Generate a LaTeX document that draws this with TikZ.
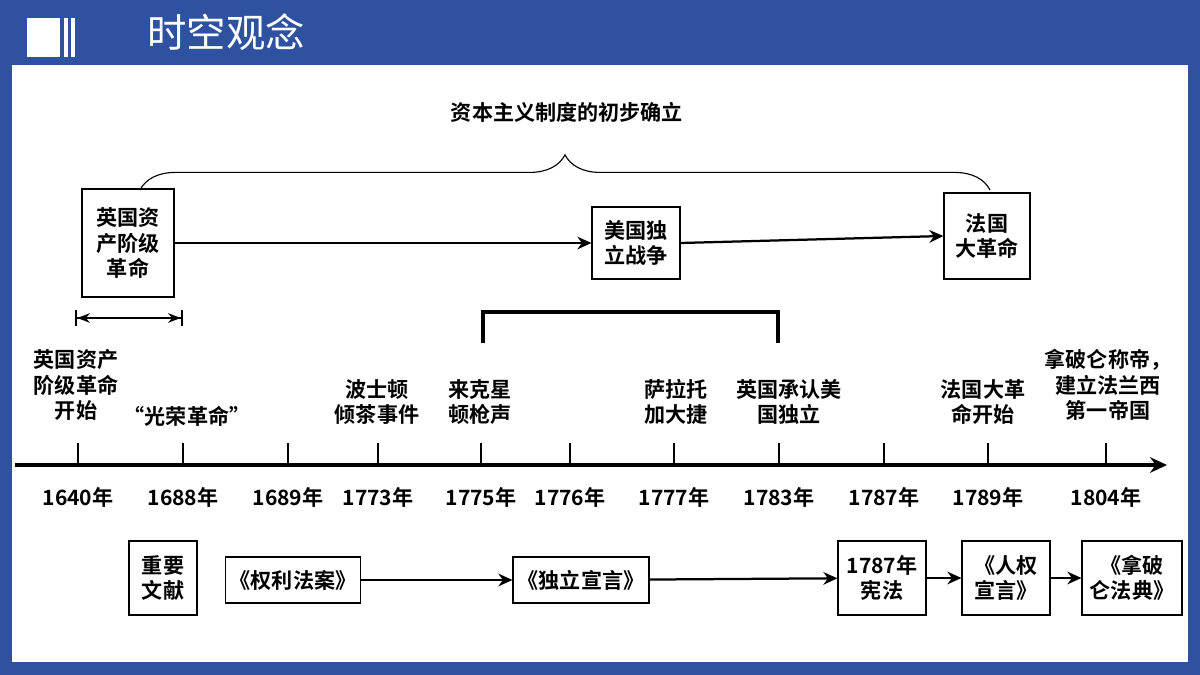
\documentclass[tikz,border=0pt]{standalone}
\usepackage{fontspec}
\setmainfont{Noto Sans CJK SC}[BoldFont={Noto Sans CJK SC Bold}]
\usetikzlibrary{arrows.meta,decorations.pathreplacing}
\definecolor{frameblue}{HTML}{2F52A0}
\begin{document}
\begin{tikzpicture}[
    x=0.025cm, y=-0.025cm,
    font=\fontsize{15}{18}\selectfont\bfseries,
    event box/.style={rectangle, draw, thick, align=center, inner sep=3pt},
    label text/.style={align=center, inner sep=0pt},
    link/.style={-{Stealth[length=10pt,width=9pt]}, line width=1.6pt},
    year/.style={inner sep=0pt}
]
% Frame
\fill[frameblue] (0,0) rectangle (1200,675);
\fill[white] (12,65) rectangle (1188,662);
\useasboundingbox (0,0) rectangle (1200,675);
\fill[white] (27,18) rectangle (60,57);
\fill[white] (64,18) rectangle (68,57);
\fill[white] (71,18) rectangle (75,57);
\node[text=white, font=\fontsize{28}{32}\selectfont] (title) at (226,32) {时空观念};

% Brace
\coordinate (bl) at (140,190);
\coordinate (br) at (990,190);
\draw[thick, decorate, decoration={brace, amplitude=25pt}] (bl) -- (br);
\node[label text] (period) at (567,112) {资本主义制度的初步确立};

% Revolutions
\node[event box, minimum width=2.3cm, minimum height=2.7cm] (eng) at (128,243) {英国资\\产阶级\\革命};
\node[event box, minimum width=2.2cm, minimum height=1.8cm] (usa) at (636,243) {美国独\\立战争};
\node[event box, minimum width=2.15cm, minimum height=2.15cm] (fra) at (987,236) {法国\\大革命};
\draw[link] (eng.east) -- (usa.west);
\draw[link] (usa.east) -- (fra.west);

% Timeline
\coordinate (t0) at (15,465);
\coordinate (t1) at (1167,465);
\draw[line width=2.5pt, -{Stealth[length=12pt,width=11pt]}] (t0) -- (t1);
\foreach \x/\y in {78/1640,183/1688,288/1689,378/1773,481/1775,570/1776,674/1777,779/1783,884/1787,988/1789,1106/1804}{
  \draw[line width=2pt] (\x,443) -- (\x,465);
  \node[year] (y\y) at (\x,497) {\y 年};
}

% Span marks
\coordinate (sa) at (75,318);
\coordinate (sb) at (183,318);
\draw[line width=1.6pt, {Bar[width=11pt]Stealth[length=9pt]}-{Stealth[length=9pt]Bar[width=11pt]}] (sa) -- (sb);
\draw[line width=2.5pt] (483,343) -- (483,312) -- (778,312) -- (778,343);

% Events
\node[label text] (e1640) at (76,385) {英国资产\\阶级革命\\开始};
\node[label text] (e1688) at (187,416) {“光荣革命”};
\node[label text] (e1773) at (377,402) {波士顿\\倾茶事件};
\node[label text] (e1775) at (480,402) {来克星\\顿枪声};
\node[label text] (e1777) at (676,402) {萨拉托\\加大捷};
\node[label text] (e1783) at (789,402) {英国承认美\\国独立};
\node[label text] (e1789) at (983,402) {法国大革\\命开始};
\node[label text] (e1804) at (1108,385) {拿破仑称帝，\\建立法兰西\\第一帝国};

% Documents
\node[event box, minimum width=1.7cm, minimum height=1.85cm] (docs) at (163,578) {重要\\文献};
\node[event box, minimum width=3.35cm, minimum height=1.15cm] (bill) at (293,580) {《权利法案》};
\node[event box, minimum width=3.4cm, minimum height=1.15cm] (decl) at (581,580) {《独立宣言》};
\node[event box, minimum width=2.2cm, minimum height=1.85cm] (const) at (882,578) {1787年\\宪法};
\node[event box, minimum width=2.2cm, minimum height=1.85cm] (rights) at (1006,578) {《人权\\宣言》};
\node[event box, minimum width=2.5cm, minimum height=1.85cm] (code) at (1132,578) {《拿破\\仑法典》};
\draw[link] (bill) -- (decl);
\draw[link] (decl) -- (const);
\draw[link] (const) -- (rights);
\draw[link] (rights) -- (code);
\end{tikzpicture}
\end{document}
